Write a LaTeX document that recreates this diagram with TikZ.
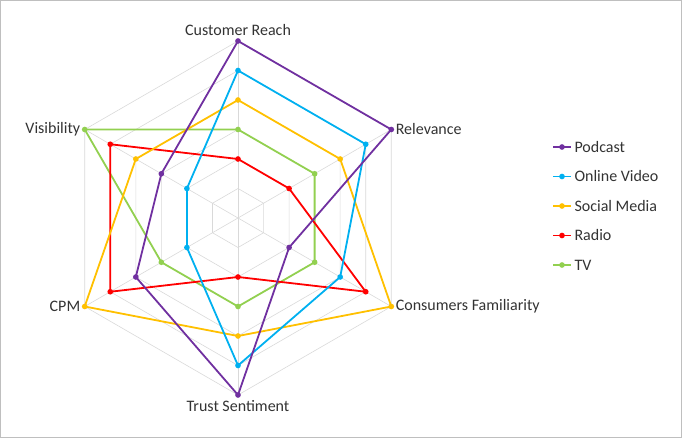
\documentclass[tikz,border=0pt]{standalone}
\usepackage{fontspec}
\setmainfont{Carlito}
\usetikzlibrary{positioning,calc}
\definecolor{podcast}{RGB}{112,48,160}
\definecolor{online}{RGB}{0,176,240}
\definecolor{social}{RGB}{255,192,0}
\definecolor{radio}{RGB}{255,0,0}
\definecolor{tv}{RGB}{146,208,80}
\tikzset{
  grid line/.style={draw=black!15, line width=0.6pt},
  series/.style={line width=1.8pt, line join=round},
  dot/.style={circle, fill, inner sep=2pt},
  axis label/.style={font=\fontsize{16}{19}\selectfont, text=black!80},
  legend label/.style={font=\fontsize{16}{19}\selectfont, text=black!80, anchor=west}
}
\begin{document}
\begin{tikzpicture}[x=1pt, y=-1pt]
\useasboundingbox (0,0) rectangle (682,438);
\draw[black!25] (0.5,0.5) rectangle (681.5,437.5);
\coordinate (c) at (238,218);
% grid
\foreach \k in {1,...,6}
  \draw[grid line] ($(c)+(-90:{29.5*\k})$) \foreach \a in {-30,30,90,150,210} { -- ($(c)+(\a:{29.5*\k})$) } -- cycle;
\foreach \a in {-90,-30,30,90,150,210}
  \draw[grid line] (c) -- ($(c)+(\a:177)$);
% series
\foreach \col/\vals in {tv/{3,3,3,3,3,6}, radio/{2,2,5,2,5,5}, social/{4,4,6,4,6,4},
                        online/{5,5,4,5,2,2}, podcast/{6,6,2,6,4,3}} {
  \foreach \v [count=\i] in \vals {
    \pgfmathsetmacro\ang{-90+60*(\i-1)}
    \coordinate (\col-\i) at ($(c)+(\ang:{29.5*\v})$);
  }
  \draw[series, \col] (\col-1) -- (\col-2) -- (\col-3) -- (\col-4) -- (\col-5) -- (\col-6) -- cycle;
  \foreach \i in {1,...,6} \node[dot, \col] at (\col-\i) {};
}
% axis labels
\node[axis label, above=2pt] (reach) at ($(c)+(-90:177)$) {Customer Reach};
\node[axis label, right=1pt] (relev) at ($(c)+(-30:177)$) {Relevance};
\node[axis label, right=1pt] (famil) at ($(c)+(30:177)$) {Consumers Familiarity};
\node[axis label, below=2pt] (trust) at ($(c)+(90:177)$) {Trust Sentiment};
\node[axis label, left=1pt] (cpm) at ($(c)+(150:177)$) {CPM};
\node[axis label, left=1pt] (visib) at ($(c)+(210:177)$) {Visibility};
% legend
\foreach \col/\name [count=\j] in {podcast/Podcast, online/Online Video, social/Social Media, radio/Radio, tv/TV} {
  \coordinate (l\j) at (553,{147+29.5*(\j-1)});
  \draw[series, \col] (l\j) -- ++(18,0) coordinate (r\j);
  \node[dot, \col] at ($(l\j)!0.5!(r\j)$) {};
  \node[legend label] (lab\j) at (r\j) {\name};
}
\end{tikzpicture}
\end{document}
